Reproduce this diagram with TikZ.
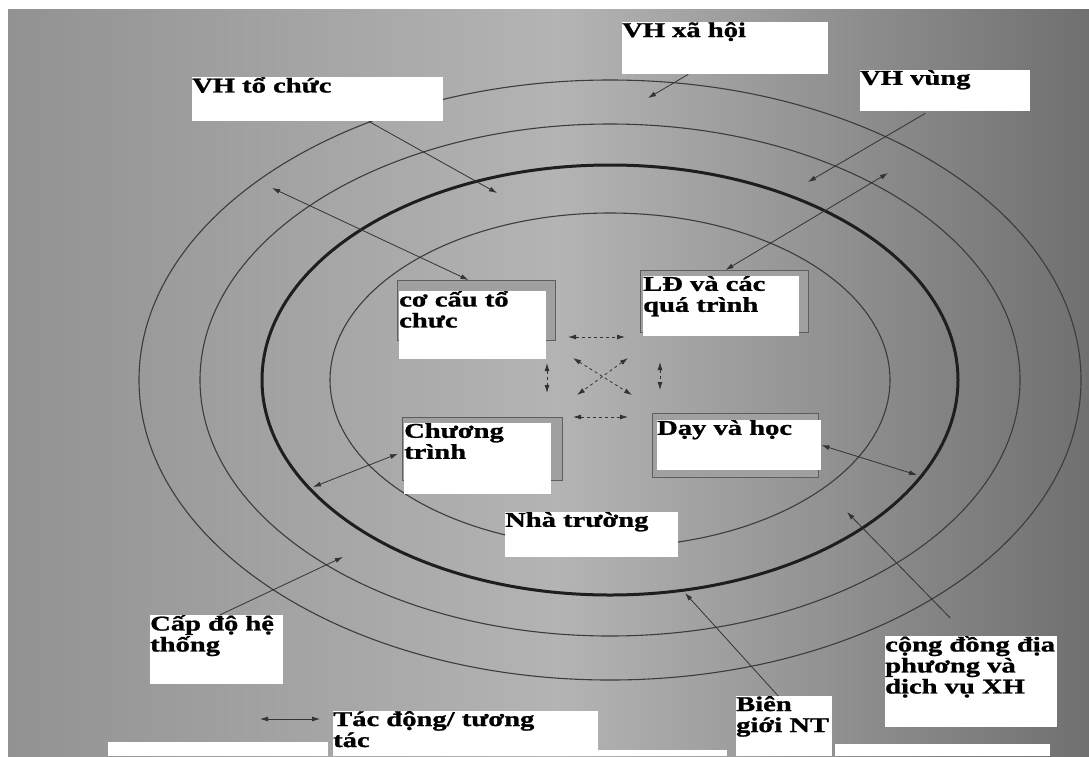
\documentclass[tikz,border=0pt]{standalone}
\usepackage{fontspec}
\newfontfamily\lblfont[FakeStretch=1.36,BoldFeatures={FakeBold=1.2}]{Liberation Serif}
\usetikzlibrary{arrows.meta}
\definecolor{paperL}{HTML}{929292}
\definecolor{paperM}{HTML}{B4B4B4}
\definecolor{paperR}{HTML}{707070}
\definecolor{ringgray}{HTML}{3C3C3C}
\definecolor{ringdark}{HTML}{1E1E1E}
\definecolor{cardgray}{HTML}{A0A0A0}
\definecolor{carddark}{HTML}{5E5E5E}
\definecolor{linegray}{HTML}{333333}
\newcommand{\boxtext}[3]{\parbox[t][#2][t]{#1}{\raggedright #3}}

\begin{document}
\begin{tikzpicture}[x=1pt,y=-1pt,
  ring/.style={draw=ringgray,line width=1.1pt},
  border/.style={draw=ringdark,line width=3pt},
  lbl/.style={fill=white,anchor=north west,inner sep=0pt,text=black,
    font=\lblfont\bfseries\fontsize{21}{21}\selectfont},
  card/.style={fill=cardgray,draw=carddark,line width=1pt,anchor=north west,inner sep=0pt},
  link/.style={draw=linegray,line width=0.8pt,-{Latex[length=8pt,width=5pt]}},
  both/.style={link,{Latex[length=8pt,width=5pt]}-{Latex[length=8pt,width=5pt]}},
  dashlink/.style={both,dash pattern=on 3pt off 3pt}]
\useasboundingbox (0,0) rectangle (1089,756);
\fill[white] (0,0) rectangle (1089,756);
\shade[left color=paperL,right color=paperM] (8,9) rectangle (560,756);
\shade[left color=paperM,right color=paperR] (559,9) rectangle (1089,756);
\draw[ring] (610,380) ellipse [x radius=471,y radius=300];
\draw[ring] (610,380) ellipse [x radius=410,y radius=256];
\draw[border] (610,380) ellipse [x radius=348,y radius=215];
\draw[ring] (610,380) ellipse [x radius=280,y radius=167];
\node[card,minimum width=158,minimum height=60] (cocau-bg) at (397,280) {};
\node[card,minimum width=168,minimum height=62] (ld-bg) at (640,270) {};
\node[card,minimum width=160,minimum height=63] (chuong-bg) at (402,417) {};
\node[card,minimum width=166,minimum height=64] (day-bg) at (652,413) {};
\node[lbl] (tochuc) at (192,77) {\boxtext{251pt}{44pt}{VH tổ chức}};
\node[lbl] (xahoi) at (622,22) {\boxtext{206pt}{52pt}{VH xã hội}};
\node[lbl] (vung) at (860,70) {\boxtext{170pt}{41pt}{VH vùng}};
\node[lbl] (cocau) at (399,291) {\boxtext{147pt}{68pt}{\mbox{cơ cấu tổ}\\chưc}};
\node[lbl] (ld) at (643,276) {\boxtext{156pt}{60pt}{\mbox{LĐ và các}\\quá trình}};
\node[lbl] (chuong) at (404,423) {\boxtext{147pt}{71pt}{Chương\\trình}};
\node[lbl] (day) at (657,420) {\boxtext{164pt}{50pt}{\mbox{Dạy và học}}};
\node[lbl] (nha) at (505,512) {\boxtext{173pt}{45pt}{Nhà trường}};
\node[lbl] (capdo) at (150,615) {\boxtext{133pt}{69pt}{\mbox{Cấp độ hệ}\\thống}};
\node[lbl] (congdong) at (885,636) {\boxtext{172pt}{91pt}{\mbox{cộng đồng địa}\\\mbox{phương và}\\\mbox{dịch vụ XH}}};
\node[lbl] (bien) at (736,696) {\boxtext{96pt}{60pt}{Biên\\\mbox{giới NT}}};
\node[lbl] (tacdong) at (333,711) {\boxtext{265pt}{45pt}{\mbox{Tác động/ tương}\\tác}};
\fill[white] (108,742) rectangle (328,756);
\fill[white] (598,750) rectangle (727,756);
\fill[white] (835,744) rectangle (1050,756);
\coordinate (tochuc-tip) at (497,193);
\coordinate (xahoi-tip) at (648,98);
\coordinate (vung-tip) at (808,182);
\coordinate (outer-nw) at (272,188);
\coordinate (outer-ne) at (888,173);
\coordinate (border-w) at (313,487);
\coordinate (border-e) at (917,475);
\coordinate (congdong-tip) at (847,512);
\coordinate (bien-tip) at (685,593);
\coordinate (capdo-tip) at (343,557);
\coordinate (leg-a) at (260,719);
\coordinate (leg-b) at (320,719);
\draw[link] ([xshift=51pt]tochuc.south) -- (tochuc-tip);
\draw[link] ([xshift=-37pt]xahoi.south) -- (xahoi-tip);
\draw[link] ([xshift=-20pt,yshift=-2pt]vung.south) -- (vung-tip);
\draw[both] (outer-nw) -- ([xshift=-8pt]cocau-bg.north);
\draw[both] (outer-ne) -- ([xshift=1pt]ld-bg.north);
\draw[both] (border-w) -- ([xshift=-6pt,yshift=5pt]chuong.west);
\draw[both] (border-e) -- (day.east);
\draw[link] ([xshift=-21pt,yshift=18pt]congdong.north) -- (congdong-tip);
\draw[link] ([xshift=-6pt]bien.north) -- (bien-tip);
\draw[link] ([xshift=3pt]capdo.north) -- (capdo-tip);
\draw[both] (leg-a) -- (leg-b);
\coordinate (m1) at (568,337);
\coordinate (m2) at (625,337);
\coordinate (m3) at (573,417);
\coordinate (m4) at (628,417);
\coordinate (m5) at (547,363);
\coordinate (m6) at (547,393);
\coordinate (m7) at (660,362);
\coordinate (m8) at (660,390);
\coordinate (m9) at (573,358);
\coordinate (m10) at (632,395);
\coordinate (m11) at (628,358);
\coordinate (m12) at (577,395);
\draw[dashlink] (m1) -- (m2);
\draw[dashlink] (m3) -- (m4);
\draw[dashlink] (m5) -- (m6);
\draw[dashlink] (m7) -- (m8);
\draw[dashlink] (m9) -- (m10);
\draw[dashlink] (m11) -- (m12);
\end{tikzpicture}
\end{document}
